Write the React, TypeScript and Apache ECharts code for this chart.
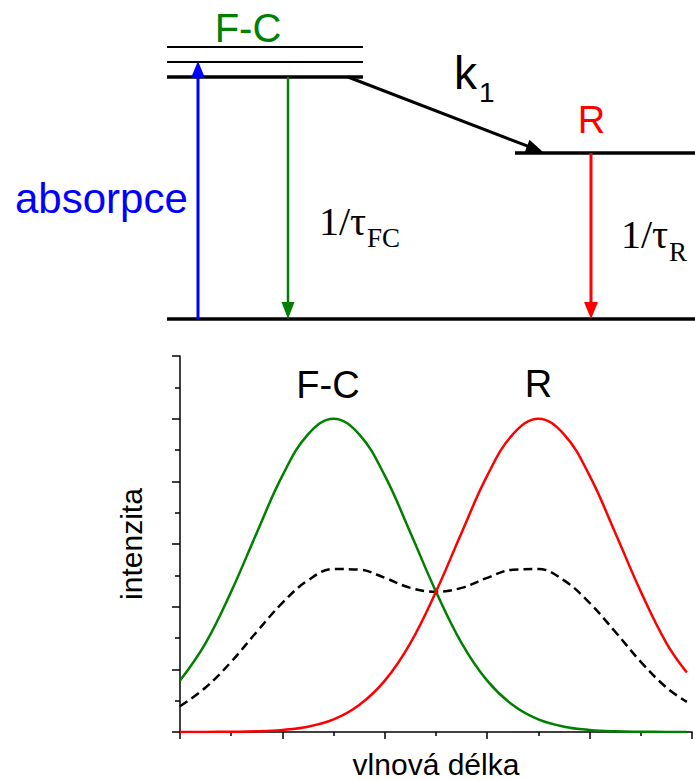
import React, { useEffect, useRef } from "react";
import * as echarts from "echarts";

// wavelength positions (arbitrary units)
const xs = [0, 0.5, 1, 1.5, 2, 2.5, 3, 3.5, 4, 4.5, 5, 5.5, 6, 6.5, 7, 7.5, 8, 8.5, 9, 9.5, 9.9];
// F-C emission band
const fcBand = [0.82, 1.42, 2.24, 3.18, 4.09, 4.75, 5.0, 4.75, 4.09, 3.18, 2.24, 1.42, 0.82, 0.43, 0.2, 0.085, 0.033, 0.011, 0.004, 0.001, 0.0];
// R emission band
const rBand = [0.0, 0.001, 0.004, 0.011, 0.033, 0.085, 0.2, 0.43, 0.82, 1.42, 2.24, 3.18, 4.09, 4.75, 5.0, 4.75, 4.09, 3.18, 2.24, 1.42, 0.95];
// combined spectrum (dashed)
const combined = [0.41, 0.71, 1.12, 1.6, 2.06, 2.42, 2.6, 2.59, 2.46, 2.3, 2.24, 2.3, 2.46, 2.59, 2.6, 2.42, 2.06, 1.6, 1.12, 0.71, 0.48];

const xAxisName = "vlnová délka";
const yAxisName = "intenzita";

const GREEN = "#008000";
const RED = "#ff0000";
const BLUE = "#0000ff";
const SANS = "'Liberation Sans', Arial, sans-serif";
const SERIF = "'Liberation Serif', 'Times New Roman', serif";

function txt(text: string, x: number, y: number, size: number, color: string, family: string, align = "center", extra: any = {}) {
  return {
    type: "text",
    x,
    y,
    ...extra,
    style: {
      text,
      fontSize: size,
      fontFamily: family,
      fill: color,
      align,
      textAlign: align,
      verticalAlign: "middle",
      textVerticalAlign: "middle",
    },
  };
}

function ln(x1: number, y1: number, x2: number, y2: number, color: string, w: number) {
  return { type: "line", shape: { x1, y1, x2, y2 }, style: { stroke: color, lineWidth: w } };
}

function poly(points: number[][], color: string) {
  return { type: "polygon", shape: { points }, style: { fill: color } };
}

export default function App() {
  const ref = useRef<HTMLDivElement>(null);
  useEffect(() => {
    if (!ref.current) return;
    const chart = echarts.init(ref.current, null, { renderer: "svg" });
    const mk = (arr: number[]) => xs.map((x, i) => [x, arr[i]]);

    // k1 arrow geometry
    const kx1 = 348, ky1 = 77, kx2 = 543, ky2 = 152;
    const dx = kx2 - kx1, dy = ky2 - ky1;
    const L = Math.sqrt(dx * dx + dy * dy);
    const ux = dx / L, uy = dy / L;
    const hl = 17, hw = 6.5;
    const bx = kx2 - hl * ux, by = ky2 - hl * uy;

    const option: any = {
      animation: false,
      grid: { left: 180, top: 356, width: 512, height: 377 },
      xAxis: {
        type: "value",
        min: 0,
        max: 10,
        interval: 2,
        name: xAxisName,
        nameLocation: "middle",
        nameGap: 17,
        nameTextStyle: { fontSize: 30, fontFamily: SANS, color: "#000" },
        axisLine: { show: true, onZero: false, lineStyle: { color: "#000", width: 1.5 } },
        axisTick: { show: true, length: 7, lineStyle: { color: "#000", width: 1.5 } },
        minorTick: { show: true, splitNumber: 2, length: 4, lineStyle: { color: "#000", width: 1.5 } },
        axisLabel: { show: false },
        splitLine: { show: false },
      },
      yAxis: {
        type: "value",
        min: 0,
        max: 6,
        interval: 1,
        name: yAxisName,
        nameLocation: "middle",
        nameGap: 34,
        nameRotate: 90,
        nameTextStyle: { fontSize: 30, fontFamily: SANS, color: "#000" },
        axisLine: { show: true, onZero: false, lineStyle: { color: "#000", width: 1.5 } },
        axisTick: { show: true, length: 8, lineStyle: { color: "#000", width: 1.5 } },
        minorTick: { show: true, splitNumber: 2, length: 5, lineStyle: { color: "#000", width: 1.5 } },
        axisLabel: { show: false },
        splitLine: { show: false },
      },
      series: [
        {
          type: "line",
          data: mk(fcBand),
          smooth: 0.4,
          showSymbol: false,
          lineStyle: { color: GREEN, width: 2.5 },
          z: 3,
        },
        {
          type: "line",
          data: mk(rBand),
          smooth: 0.4,
          showSymbol: false,
          lineStyle: { color: RED, width: 2.5 },
          z: 4,
        },
        {
          type: "line",
          data: mk(combined),
          smooth: 0.4,
          showSymbol: false,
          lineStyle: { color: "#000", width: 2.5, type: [9, 5] },
          z: 2,
        },
      ],
      graphic: [
        // F-C levels
        ln(167, 47, 363, 47, "#000", 2),
        ln(167, 62, 363, 62, "#000", 2),
        ln(167, 77, 363, 77, "#000", 3.5),
        // R level
        ln(515, 153, 695, 153, "#000", 3.5),
        // ground level
        ln(167, 319, 695, 319, "#000", 3.5),
        // absorption arrow (blue, up)
        ln(198, 319, 198, 74, BLUE, 3),
        poly([[198, 61], [191, 78], [205, 78]], BLUE),
        // F-C emission arrow (green, down)
        ln(288, 77, 288, 305, GREEN, 2.5),
        poly([[288, 319], [281.5, 302], [294.5, 302]], GREEN),
        // R emission arrow (red, down)
        ln(591, 153, 591, 305, RED, 3),
        poly([[591, 319], [584, 302], [598, 302]], RED),
        // k1 arrow
        ln(kx1, ky1, bx + 2 * ux, by + 2 * uy, "#000", 3),
        poly(
          [
            [kx2, ky2],
            [bx - hw * uy, by + hw * ux],
            [bx + hw * uy, by - hw * ux],
          ],
          "#000"
        ),
        // texts (diagram)
        txt("F-C", 248, 28, 40, GREEN, SANS),
        txt("k", 454, 73, 46, "#000", SANS, "left"),
        txt("1", 479, 92, 28, "#000", SANS, "left"),
        txt("R", 591.5, 120, 38, RED, SANS),
        txt("absorpce", 15, 198, 42, BLUE, SANS, "left"),
        txt("1/τ", 319, 221, 40, "#000", SERIF, "left"),
        txt("FC", 367, 238, 27, "#000", SERIF, "left"),
        txt("1/τ", 621, 234, 40, "#000", SERIF, "left"),
        txt("R", 669, 252, 27, "#000", SERIF, "left"),
        // band labels in the spectrum
        txt("F-C", 328, 385, 38, "#000", SANS),
        txt("R", 538.5, 384, 38, "#000", SANS),
      ],
    };
    chart.setOption(option);
    return () => chart.dispose();
  }, []);

  return (
    <div
      ref={ref}
      style={{ position: "fixed", left: 0, top: 0, width: 695, height: 780, background: "#fff" }}
    />
  );
}
